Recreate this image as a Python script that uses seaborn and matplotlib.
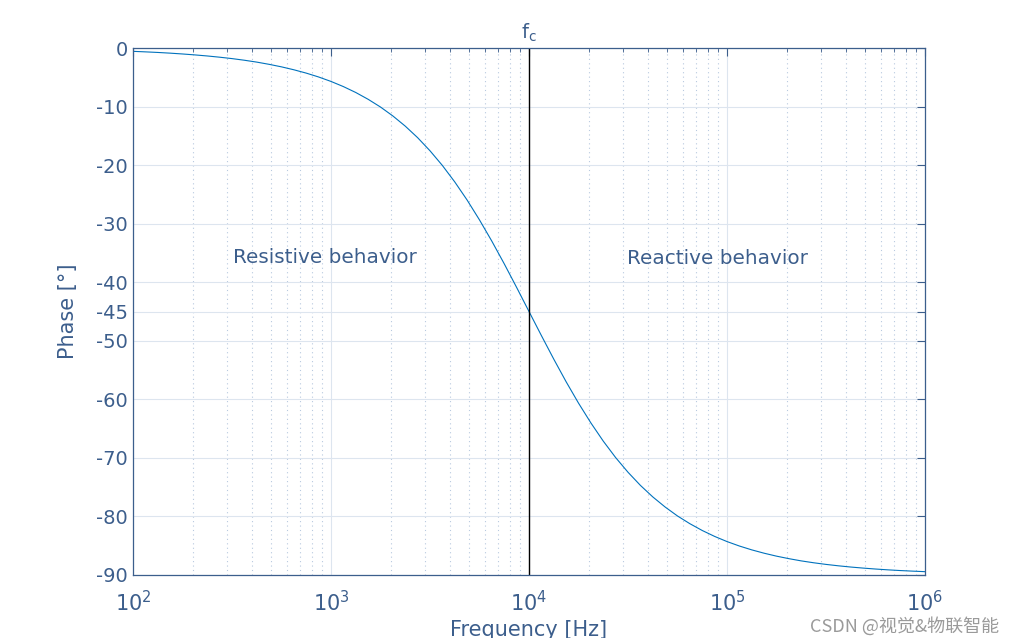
import matplotlib
matplotlib.use("Agg")
import matplotlib.pyplot as plt
import matplotlib.ticker as mticker
import matplotlib.transforms as mtransforms
import pandas as pd
import seaborn as sns

# values (log spaced frequencies, 16 per decade)
freq = [100, 115.5, 133.4, 154, 177.8, 205.4, 237.1, 273.8, 316.2, 365.2,
        421.7, 487, 562.3, 649.4, 749.9, 866,
        1000, 1155, 1334, 1540, 1778, 2054, 2371, 2738, 3162, 3652,
        4217, 4870, 5623, 6494, 7499, 8660,
        10000, 11550, 13340, 15400, 17780, 20540, 23710, 27380, 31620, 36520,
        42170, 48700, 56230, 64940, 74990, 86600,
        100000, 115500, 133400, 154000, 177800, 205400, 237100, 273800,
        316200, 365200, 421700, 487000, 562300, 649400, 749900, 866000,
        1000000]
phase = [-0.57, -0.66, -0.76, -0.88, -1.02, -1.18, -1.36, -1.57, -1.81, -2.09,
         -2.41, -2.79, -3.22, -3.72, -4.29, -4.95,
         -5.71, -6.59, -7.60, -8.76, -10.08, -11.61, -13.34, -15.31, -17.55,
         -20.06, -22.87, -25.97, -29.36, -33.00, -36.86, -40.89,
         -45.00, -49.11, -53.14, -57.00, -60.64, -64.03, -67.13, -69.94,
         -72.45, -74.69, -76.66, -78.39, -79.92, -81.24, -82.40, -83.41,
         -84.29, -85.05, -85.71, -86.28, -86.78, -87.21, -87.59, -87.91,
         -88.19, -88.43, -88.64, -88.82, -88.98, -89.12, -89.24, -89.34,
         -89.43]
f_cut = 1e4
y_ticks = [-90, -80, -70, -60, -50, -45, -40, -30, -20, -10, 0]
x_ticks = [1e2, 1e3, 1e4, 1e5, 1e6]

txt = "#3c5e8c"
sns.set_style("white")
plt.rcParams["font.family"] = ["DejaVu Sans"]

df = pd.DataFrame({"Frequency": freq, "Phase": phase})

fig = plt.figure(figsize=(10.23, 6.38), dpi=100)
ax = fig.add_axes([133 / 1023, 1 - 575 / 638, (925 - 133) / 1023, (575 - 48) / 638])

sns.lineplot(data=df, x="Frequency", y="Phase", ax=ax, color="#0072BD", lw=0.8)
ax.set_xscale("log")
ax.set_xlim(1e2, 1e6)
ax.set_ylim(-90, 0)
ax.set_xticks(x_ticks)
ax.xaxis.set_minor_locator(mticker.LogLocator(base=10, subs=range(2, 10), numticks=20))
ax.xaxis.set_minor_formatter(mticker.NullFormatter())
ax.set_yticks(y_ticks)
ax.set_yticklabels([str(v) for v in y_ticks])

ax.grid(which="major", color="#dde5ef", lw=0.8, ls="-")
ax.grid(which="minor", axis="x", color="#b8c9df", lw=0.8, ls=(0, (1, 3)))

ax.axvline(f_cut, color="black", lw=1)

for s in ax.spines.values():
    s.set_color(txt)
    s.set_linewidth(0.9)
ax.tick_params(which="both", direction="in", top=True, right=True, colors=txt,
               labelsize=14)
ax.tick_params(which="major", length=6)
ax.tick_params(which="minor", length=3)
ax.tick_params(axis="x", labelsize=15, pad=11)

ax.set_xlabel("Frequency [Hz]", color=txt, fontsize=15, labelpad=3)
ax.set_ylabel("Phase [°]", color=txt, fontsize=15, labelpad=13)

trans = mtransforms.blended_transform_factory(ax.transData, ax.transAxes)
ax.text(f_cut, 1.008, r"$\mathregular{f_c}$", transform=trans, ha="center",
        va="bottom", color=txt, fontsize=14)

ax.text(930, -35.7, "Resistive behavior", color=txt, fontsize=14.4,
        ha="center", va="center")
ax.text(90000, -35.9, "Reactive behavior", color=txt, fontsize=14.4,
        ha="center", va="center")

fig.text(905 / 1023, 1 - 626 / 638, "CSDN @视觉&物联智能", color="#9a9a9a",
         fontsize=13, ha="center", va="center",
         family=["Noto Sans CJK SC", "DejaVu Sans"])

fig.savefig("out.png", dpi=100)
